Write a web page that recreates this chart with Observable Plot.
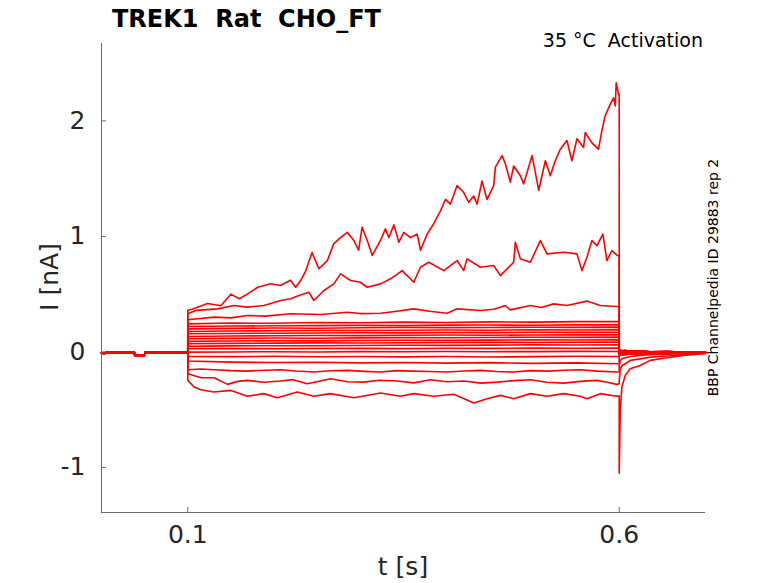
<!DOCTYPE html>
<html><head><meta charset="utf-8">
<script src="https://cdn.jsdelivr.net/npm/d3@7"></script>
<script src="https://cdn.jsdelivr.net/npm/@observablehq/plot@0.6"></script>
<style>body{margin:0;background:#fff}</style>
</head><body><div id="chart"></div>
<script>
// axes
const xDomain = [0, 0.7];
const yDomain = [-1.39, 2.67];
const xTicks = [0.1, 0.6];
const yTicks = [-1, 0, 1, 2];

// shared baseline before the step (t, I)
const preT = [0, 0.003, 0.006, 0.02, 0.038, 0.0385, 0.05, 0.0505, 0.07, 0.09, 0.1];
const preA = [-0.005, -0.012, -0.002, 0.0, 0.0, -0.025, -0.025, -0.002, 0.0, 0.002, 0.0];
const preB = [-0.01, -0.015, -0.008, -0.008, -0.01, -0.03, -0.03, -0.01, -0.006, -0.006, -0.005];

// after the step
const postT = [0.6, 0.6012, 0.6031, 0.607, 0.6127, 0.6243, 0.6359, 0.6552, 0.674, 0.6972, 0.7];
const postA = [0.02, 0.015, 0.01, 0.012, 0.005, 0.008, 0.002, 0.004, -0.002, 0.0, -0.002];
const postB = [-0.02, -0.025, -0.02, -0.022, -0.018, -0.02, -0.015, -0.012, -0.01, -0.008, -0.008];
const postC = [0.0, -0.005, -0.008, -0.004, -0.01, -0.006, -0.009, -0.004, -0.007, -0.003, -0.004];
const tail1 = [-1.05, -0.506, -0.304, -0.203, -0.145, -0.117, -0.073, -0.05, -0.03, -0.015, -0.015];
const tail2 = [-0.25, -0.145, -0.12, -0.102, -0.073, -0.06, -0.045, -0.035, -0.023, -0.01, -0.01];
const tail3 = [-0.12, -0.073, -0.06, -0.05, -0.04, -0.03, -0.025, -0.02, -0.015, -0.01, -0.01];

// large activating traces during the step [t, I]
const trace1 = [[0.1,0.36],[0.105,0.37],[0.1228,0.42],[0.1383,0.40],[0.15,0.50],[0.1596,0.46],[0.169,0.50],[0.181,0.56],[0.196,0.59],[0.2076,0.575],[0.219,0.62],[0.225,0.56],[0.231,0.62],[0.2366,0.70],[0.244,0.86],[0.252,0.72],[0.2617,0.79],[0.269,0.935],[0.277,0.99],[0.2848,1.035],[0.2925,0.965],[0.298,0.88],[0.302,1.08],[0.308,0.965],[0.3138,0.835],[0.3234,0.965],[0.329,1.065],[0.333,0.99],[0.3389,1.10],[0.3446,0.95],[0.3504,1.035],[0.358,0.99],[0.3659,1.02],[0.3697,0.88],[0.3774,1.02],[0.385,1.11],[0.3928,1.22],[0.3986,1.32],[0.4044,1.28],[0.4121,1.44],[0.4198,1.38],[0.4256,1.295],[0.4314,1.35],[0.4353,1.28],[0.441,1.48],[0.4468,1.32],[0.4545,1.44],[0.4565,1.60],[0.4642,1.70],[0.468,1.63],[0.4738,1.47],[0.4777,1.61],[0.4854,1.525],[0.4893,1.455],[0.499,1.70],[0.5067,1.40],[0.5144,1.655],[0.5201,1.525],[0.5259,1.655],[0.5317,1.755],[0.5394,1.83],[0.5452,1.655],[0.551,1.845],[0.5587,1.77],[0.5606,1.90],[0.5684,1.81],[0.576,1.755],[0.5799,1.915],[0.5838,2.045],[0.5896,2.145],[0.5934,2.20],[0.5954,2.13],[0.5965,2.33],[0.5992,2.23],[0.6,2.23]];
const trace2 = [[0.1,0.33],[0.11,0.36],[0.1344,0.373],[0.1536,0.402],[0.169,0.388],[0.1883,0.402],[0.2076,0.445],[0.219,0.46],[0.2288,0.488],[0.2404,0.517],[0.246,0.445],[0.2578,0.532],[0.2693,0.589],[0.277,0.676],[0.2887,0.618],[0.3,0.603],[0.308,0.56],[0.3234,0.589],[0.335,0.633],[0.3485,0.704],[0.3619,0.603],[0.3697,0.733],[0.3793,0.776],[0.3967,0.704],[0.4121,0.791],[0.4198,0.704],[0.4237,0.806],[0.4391,0.733],[0.4545,0.748],[0.4623,0.661],[0.4777,0.776],[0.4796,0.949],[0.4854,0.806],[0.497,0.776],[0.5086,0.964],[0.5163,0.849],[0.5356,0.863],[0.551,0.849],[0.5568,0.704],[0.5626,0.82],[0.5684,0.964],[0.5742,0.92],[0.5811,1.02],[0.5857,0.791],[0.5915,0.877],[0.598,0.834],[0.6,0.83]];
const trace3 = [[0.1,0.278],[0.1305,0.301],[0.15,0.295],[0.169,0.316],[0.19,0.31],[0.2192,0.33],[0.254,0.324],[0.2848,0.344],[0.3,0.332],[0.3234,0.335],[0.34,0.35],[0.3619,0.373],[0.38,0.352],[0.4006,0.335],[0.4121,0.373],[0.4391,0.359],[0.455,0.37],[0.468,0.402],[0.4738,0.364],[0.497,0.402],[0.51,0.385],[0.524,0.416],[0.5394,0.402],[0.5626,0.44],[0.578,0.402],[0.5973,0.393],[0.6,0.39]];

// flat traces during the step, sampled at stepT
const stepT = [0.1, 0.15, 0.2, 0.25, 0.3, 0.35, 0.4, 0.45, 0.5, 0.55, 0.6];
const flatTraces = [
  [0.243, 0.25, 0.248, 0.255, 0.252, 0.258, 0.255, 0.26, 0.258, 0.262, 0.264],
  [0.220, 0.224, 0.226, 0.228, 0.23, 0.228, 0.232, 0.233, 0.231, 0.234, 0.235],
  [0.200, 0.204, 0.207, 0.205, 0.209, 0.211, 0.21, 0.212, 0.214, 0.213, 0.215],
  [0.177, 0.181, 0.183, 0.186, 0.185, 0.188, 0.19, 0.188, 0.191, 0.19, 0.192],
  [0.157, 0.16, 0.162, 0.164, 0.166, 0.165, 0.168, 0.167, 0.17, 0.169, 0.171],
  [0.134, 0.138, 0.14, 0.142, 0.141, 0.144, 0.146, 0.145, 0.147, 0.148, 0.149],
  [0.114, 0.117, 0.12, 0.119, 0.122, 0.124, 0.123, 0.125, 0.127, 0.126, 0.128],
  [0.091, 0.095, 0.097, 0.096, 0.099, 0.101, 0.1, 0.102, 0.104, 0.103, 0.105],
  [0.071, 0.074, 0.076, 0.078, 0.077, 0.08, 0.081, 0.083, 0.082, 0.084, 0.085],
  [0.048, 0.052, 0.054, 0.053, 0.056, 0.058, 0.057, 0.059, 0.061, 0.06, 0.062],
  [0.027, 0.029, 0.028, 0.03, 0.031, 0.029, 0.032, 0.031, 0.033, 0.032, 0.033],
  [-0.002, 0.0, 0.002, 0.0, 0.003, 0.001, 0.004, 0.002, 0.003, 0.005, 0.004],
  [-0.039, -0.041, -0.038, -0.042, -0.039, -0.043, -0.04, -0.044, -0.041, -0.038, -0.039],
  [-0.079, -0.088, -0.092, -0.089, -0.095, -0.091, -0.097, -0.093, -0.099, -0.095, -0.102]
];

// noisy inward traces [t, I]
const trace18 = [[0.1,-0.154],[0.115,-0.148],[0.1305,-0.154],[0.15,-0.162],[0.169,-0.166],[0.19,-0.158],[0.2076,-0.154],[0.225,-0.165],[0.2462,-0.174],[0.265,-0.163],[0.2848,-0.16],[0.305,-0.168],[0.3234,-0.174],[0.342,-0.162],[0.3619,-0.166],[0.38,-0.17],[0.4006,-0.174],[0.42,-0.165],[0.4391,-0.16],[0.458,-0.17],[0.4777,-0.174],[0.497,-0.162],[0.5163,-0.166],[0.535,-0.158],[0.5549,-0.154],[0.575,-0.166],[0.5973,-0.174],[0.6,-0.172]];
const trace19 = [[0.1,-0.189],[0.1154,-0.224],[0.1305,-0.224],[0.146,-0.281],[0.158,-0.255],[0.169,-0.246],[0.188,-0.262],[0.2076,-0.252],[0.222,-0.24],[0.2385,-0.275],[0.2655,-0.232],[0.285,-0.258],[0.304,-0.261],[0.322,-0.245],[0.3427,-0.252],[0.362,-0.268],[0.3813,-0.241],[0.40,-0.258],[0.4198,-0.252],[0.44,-0.27],[0.4584,-0.261],[0.478,-0.248],[0.497,-0.241],[0.516,-0.262],[0.5356,-0.27],[0.555,-0.255],[0.5742,-0.246],[0.586,-0.262],[0.5973,-0.281],[0.6,-0.275]];
const trace20 = [[0.1,-0.246],[0.1073,-0.304],[0.115,-0.327],[0.13,-0.347],[0.15,-0.333],[0.169,-0.384],[0.188,-0.361],[0.2038,-0.396],[0.2269,-0.347],[0.246,-0.384],[0.265,-0.361],[0.2925,-0.396],[0.3234,-0.356],[0.3465,-0.384],[0.3619,-0.361],[0.385,-0.384],[0.4083,-0.367],[0.4314,-0.442],[0.4468,-0.405],[0.4623,-0.376],[0.4777,-0.405],[0.497,-0.361],[0.5163,-0.384],[0.5356,-0.361],[0.5549,-0.384],[0.5626,-0.405],[0.578,-0.361],[0.5973,-0.384],[0.6,-0.38]];

// build rows
const rows = [];
let id = 0;
function addTrace(stepPairs, pre, post) {
  id++;
  preT.forEach((t, i) => rows.push({id, t, v: pre[i]}));
  stepPairs.forEach(([t, v]) => rows.push({id, t, v}));
  postT.forEach((t, i) => rows.push({id, t, v: post[i]}));
}
const posts = [postA, postB, postC];
addTrace(trace1, preA, postC);
addTrace(trace2, preB, postA);
addTrace(trace3, preA, postB);
flatTraces.forEach((vals, k) => addTrace(stepT.map((t, i) => [t, vals[i]]), k % 2 ? preA : preB, posts[k % 3]));
addTrace(trace18, preB, tail3);
addTrace(trace19, preA, tail2);
addTrace(trace20, preB, tail1);

const fmt = d => String(d);
const chart = Plot.plot({
  width: 778, height: 583,
  marginLeft: 101, marginRight: 73, marginTop: 43, marginBottom: 71,
  x: {domain: xDomain},
  y: {domain: yDomain},
  style: {fontFamily: "DejaVu Sans", background: "white", color: "#262626"},
  marks: [
    Plot.line(rows, {x: "t", y: "v", z: "id", stroke: "#ff0000", strokeWidth: 1.6, strokeLinejoin: "round"}),
    Plot.ruleX([xDomain[0]], {stroke: "#6b6b6b"}),
    Plot.ruleY([yDomain[0]], {stroke: "#6b6b6b"}),
    Plot.axisX(xTicks, {tickSize: -5, tickPadding: 18, fontSize: 25, tickFormat: fmt, label: null, stroke: "#6b6b6b", fill: "#262626"}),
    Plot.axisY(yTicks, {tickSize: -5, tickPadding: 21, fontSize: 25, tickFormat: fmt, label: null, stroke: "#6b6b6b", fill: "#262626"})
  ]
});
document.getElementById("chart").appendChild(chart);

const svg = d3.select(chart);
const addText = (txt, attrs) => {
  const t = svg.append("text").text(txt)
    .attr("font-family", "DejaVu Sans").attr("fill", "#000").attr("text-anchor", "start").style("white-space", "pre");
  Object.entries(attrs).forEach(([k, v]) => t.attr(k, v));
  return t;
};
addText("TREK1  Rat  CHO_FT", {x: 112, y: 27, "font-size": 24, "font-weight": "bold"});
addText("35 °C  Activation", {x: 703, y: 47, "font-size": 19, "text-anchor": "end"});
addText("BBP Channelpedia ID 29883 rep 2", {transform: "translate(718,277.5) rotate(-90)", "font-size": 14, "text-anchor": "middle"});
addText("I [nA]", {transform: "translate(58,277) rotate(-90)", "font-size": 25, "text-anchor": "middle", fill: "#262626"});
addText("t [s]", {x: 403, y: 575, "font-size": 25, "text-anchor": "middle", fill: "#262626"});
</script></body></html>
